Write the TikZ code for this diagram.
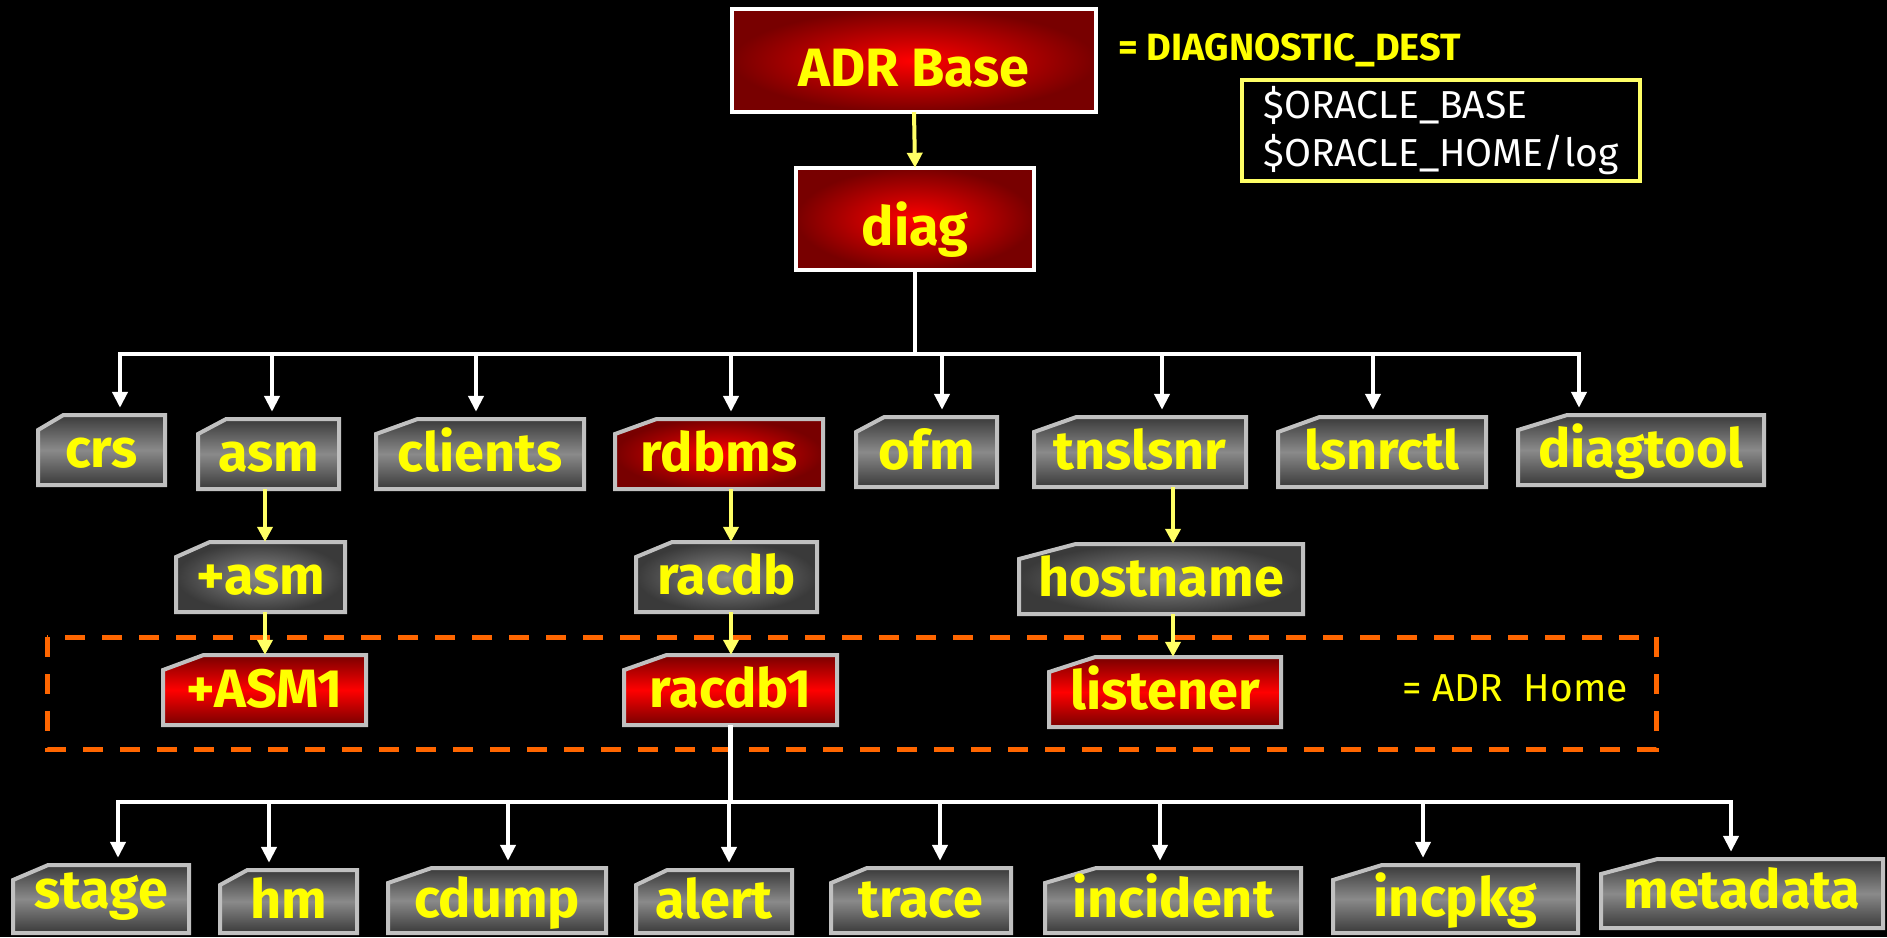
\documentclass[tikz,border=0pt]{standalone}
\usepackage{fontspec}
\newfontfamily\labfont{Fira Sans}
\usetikzlibrary{arrows.meta}
\definecolor{labyellow}{HTML}{FFFF00}
\definecolor{arryellow}{HTML}{FFFF66}
\definecolor{bgray}{HTML}{C0C0C0}
\definecolor{dgray}{HTML}{3A3A3A}
\definecolor{mgray}{HTML}{8A8A8A}
\definecolor{dred}{HTML}{780000}
\definecolor{bred}{HTML}{FF0000}
\definecolor{adrorange}{HTML}{FF6600}
\tikzset{
  lab/.style={font=\labfont\bfseries\fontsize{54}{60}\selectfont, text=labyellow, inner sep=0pt, text height=34pt, text depth=0pt},
  toplab/.style={lab, text height=52pt},
  gfold/.style={top color=dgray, bottom color=dgray, middle color=mgray, draw=bgray, line width=4pt},
  gfoldR/.style={inner color=mgray, outer color=dgray, draw=bgray, line width=4pt},
  rfoldR/.style={inner color=bred, outer color=dred, draw=bgray, line width=4pt},
  rfoldV/.style={top color=dred, bottom color=dred, middle color=bred, draw=bgray, line width=4pt},
  topbox/.style={inner color=bred, outer color=dred, draw=white, line width=4pt},
  wline/.style={draw=white, line width=4.5pt},
  warr/.style={draw=white, line width=4.5pt, -{Triangle[width=15pt,length=16pt]}, shorten >=7pt},
  yarr/.style={draw=arryellow, line width=4pt, -{Triangle[width=15pt,length=15pt]}},
  note/.style={font=\labfont\fontsize{39}{48}\selectfont, inner sep=0pt}
}
% folder: [node opts]{name}{x1}{y1}{x2}{y2}{style}{text}
\newcommand\fold[8][]{%
  \shadedraw[#7] ({#3+0.2*(#5-#3)},#4) -- (#5,#4) -- (#5,#6) -- (#3,#6) -- (#3,{#4+15}) -- cycle;
  \node[lab,#1, minimum width={(#5-#3)*1pt}, minimum height={(#6-#4)*1pt}] (#2) at ({(#3+#5)/2},{(#4+#6)/2}) {#8};}
\newcommand\rbox[6]{%
  \shadedraw[topbox] (#2,#3) rectangle (#4,#5);
  \node[toplab, minimum width={(#4-#2)*1pt}, minimum height={(#5-#3)*1pt}] (#1) at ({(#2+#4)/2},{(#3+#5)/2}) {#6};}
\begin{document}
\begin{tikzpicture}[x=1pt,y=-1pt]
\fill[black] (0,0) rectangle (1887,937);
\useasboundingbox (0,0) rectangle (1887,937);

% ADR home dashed region
\draw[adrorange, line width=5pt, dash pattern=on 20pt off 17pt] (47,637) rectangle (1656,749);

% top boxes
\rbox{adr}{732}{9}{1096}{112}{ADR Base}
\rbox{diag}{796}{168}{1034}{270}{diag}
\node[font=\labfont\bfseries\fontsize{38}{44}\selectfont, text=labyellow, anchor=base west, inner sep=0pt] (dd) at (1118,60) {= DIAGNOSTIC\_DEST};
\node[note, text=white, draw=arryellow, line width=4pt, minimum width=398pt, minimum height=101pt, align=left] (env) at (1441,130.5) {\$ORACLE\_BASE\\\$ORACLE\_HOME/log};
\node[note, text=labyellow, anchor=base west] (home) at (1402,701) {= ADR\ \ Home};

% row 1
\fold{crs}{38}{415}{165}{485}{gfold}{crs}
\fold{asm}{198}{419}{339}{489}{gfold}{asm}
\fold{clients}{376}{419}{584}{489}{gfold}{clients}
\fold{rdbms}{615}{419}{823}{489}{rfoldR}{rdbms}
\fold{ofm}{856}{417}{997}{487}{gfold}{ofm}
\fold{tnslsnr}{1034}{417}{1246}{487}{gfold}{tnslsnr}
\fold{lsnrctl}{1278}{417}{1486}{487}{gfold}{lsnrctl}
\fold{diagtool}{1518}{415}{1764}{485}{gfold}{diagtool}
% row 2
\fold{pasm}{176}{542}{345}{612}{gfoldR}{+asm}
\fold{racdb}{636}{542}{817}{612}{gfoldR}{racdb}
\fold{hostname}{1019}{544}{1303}{614}{gfoldR}{hostname}
% row 3
\fold{pASM}{163}{655}{366}{725}{rfoldV}{+ASM1}
\fold{racdbone}{624}{655}{837}{725}{rfoldV}{racdb1}
\fold{listener}{1049}{657}{1281}{727}{rfoldV}{listener}
% bottom row
\fold[text height=18pt]{stage}{13}{865}{189}{933}{gfold}{stage}
\fold{hm}{220}{870}{357}{933}{gfold}{hm}
\fold{cdump}{388}{868}{606}{933}{gfold}{cdump}
\fold{alert}{636}{870}{792}{933}{gfold}{alert}
\fold{trace}{831}{868}{1011}{933}{gfold}{trace}
\fold{incident}{1045}{868}{1301}{933}{gfold}{incident}
\fold{incpkg}{1333}{865}{1578}{933}{gfold}{incpkg}
\fold[text height=30pt]{metadata}{1601}{859}{1883}{928}{gfold}{metadata}

% connectors
\draw[yarr] (adr.south) -- (diag.north);
\foreach \n/\x in {crs/120, asm/272, clients/476, rdbms/731, ofm/942, tnslsnr/1162, lsnrctl/1373, diagtool/1579}
  {\coordinate (t\n) at (\x,354);
   \draw[warr] (t\n) -- (t\n |- \n.north);}
\draw[wline] (diag.south) -- (diag.south |- tcrs);
\draw[wline, line cap=rect] (tcrs) -- (tdiagtool);

\coordinate (ya) at (265,0);
\coordinate (yr) at (731,0);
\coordinate (yt) at (1173,0);
\draw[yarr] (asm.south -| ya) -- (pasm.north -| ya);
\draw[yarr] (pasm.south -| ya) -- (pASM.north -| ya);
\draw[yarr] (rdbms.south -| yr) -- (racdb.north -| yr);
\draw[yarr] (racdb.south -| yr) -- (racdbone.north -| yr);
\draw[yarr] (tnslsnr.south -| yt) -- (hostname.north -| yt);
\draw[yarr] (hostname.south -| yt) -- (listener.north -| yt);

\foreach \n/\x in {stage/118, hm/269, cdump/508, alert/729, trace/940, incident/1160, incpkg/1423, metadata/1731}
  {\coordinate (b\n) at (\x,802);
   \draw[warr] (b\n) -- (b\n |- \n.north);}
\draw[wline] (racdbone.south) -- (racdbone.south |- bstage);
\draw[wline, line cap=rect] (bstage) -- (bmetadata);
\end{tikzpicture}
\end{document}
